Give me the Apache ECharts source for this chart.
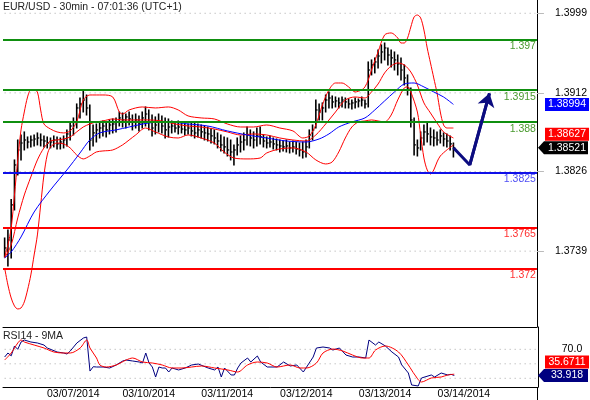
<!DOCTYPE html>
<html>
<head>
<meta charset="utf-8">
<script src="https://cdn.jsdelivr.net/npm/echarts@6.0.0/dist/echarts.min.js"></script>
<style>
  html, body { margin: 0; padding: 0; background: #fff; }
  #chart { width: 590px; height: 400px; }
</style>
</head>
<body>
<div id="chart"></div>
<script>
const title = 'EUR/USD - 30min - 07:01:36 (UTC+1)'
const rsiTitle = 'RSI14 - 9MA'

// hourly sessions: [date, first hour, last hour]
const sessions = [
  ['03/06/2014', 12, 23], ['03/07/2014', 0, 22], ['03/10/2014', 0, 23], ['03/11/2014', 0, 23],
  ['03/12/2014', 0, 23], ['03/13/2014', 0, 23], ['03/14/2014', 0, 23], ['03/15/2014', 0, 7],
]
const tickDays = ['03/07/2014', '03/10/2014', '03/11/2014', '03/12/2014', '03/13/2014', '03/14/2014']

const priceTicks = [1.3739, 1.3826, 1.3912, 1.3999]
const rsiTicks = [70]
const rsiGrid = [30, 50, 70]

const levels = [1.397, 1.3915, 1.388, 1.3825, 1.3765, 1.372]
const levelColors = ['#0f8f0f', '#0f8f0f', '#0f8f0f', '#1010e8', '#ff0000', '#ff0000']
const levelTextColors = ['#4a9a30', '#4a9a30', '#4a9a30', '#5050f5', '#ff3030', '#ff3030']

const highs = [
  1.37534, 1.37621, 1.37955, 1.38387, 1.38605, 1.3866, 1.38693, 1.38638, 1.38649, 1.3866, 1.38682, 1.38671,
  1.38649, 1.38638, 1.38627, 1.38649, 1.38638, 1.38627, 1.38649, 1.38715, 1.38802, 1.38846, 1.38999, 1.39064,
  1.39141, 1.39097, 1.38988, 1.38769, 1.3878, 1.38802, 1.38813, 1.38802, 1.38824, 1.38835, 1.38846, 1.38911,
  1.389, 1.38889, 1.38911, 1.38878, 1.38889, 1.38868, 1.38911, 1.38966, 1.38933, 1.38878, 1.38857, 1.38889,
  1.38868, 1.38846, 1.38835, 1.38813, 1.38802, 1.38813, 1.38791, 1.38802, 1.3878, 1.38791, 1.38791, 1.3878,
  1.38769, 1.38758, 1.38747, 1.38725, 1.38715, 1.38682, 1.3866, 1.38638, 1.38627, 1.38605, 1.38551, 1.38627,
  1.38649, 1.38682, 1.38747, 1.38715, 1.38693, 1.38736, 1.38747, 1.3866, 1.38638, 1.38649, 1.38627, 1.38616,
  1.38605, 1.38594, 1.38605, 1.38583, 1.38594, 1.38583, 1.38572, 1.38583, 1.38605, 1.38715, 1.38769, 1.39042,
  1.38999, 1.3901, 1.39097, 1.3913, 1.39086, 1.39075, 1.39064, 1.39075, 1.39064, 1.39053, 1.39042, 1.39064,
  1.39053, 1.39075, 1.39042, 1.39458, 1.3948, 1.39502, 1.39589, 1.39644, 1.39665, 1.39611, 1.39589, 1.39567,
  1.39534, 1.39502, 1.39425, 1.39316, 1.39174, 1.38846, 1.38605, 1.38693, 1.38769, 1.38791, 1.38736, 1.38715,
  1.38693, 1.38715, 1.38682, 1.38671, 1.38649, 1.38572,
]
const lows = [
  1.37326, 1.37228, 1.37315, 1.3784, 1.38223, 1.38387, 1.38496, 1.38518, 1.38529, 1.3854, 1.38551, 1.3854,
  1.38529, 1.38518, 1.38518, 1.38529, 1.38507, 1.38507, 1.38518, 1.3854, 1.38605, 1.3866, 1.38736, 1.38846,
  1.38911, 1.38878, 1.38496, 1.3854, 1.38583, 1.38627, 1.38649, 1.38638, 1.38671, 1.38682, 1.38693, 1.38758,
  1.38747, 1.38736, 1.38769, 1.38715, 1.38736, 1.38704, 1.38736, 1.38758, 1.38715, 1.38649, 1.38671, 1.38693,
  1.38682, 1.38627, 1.38638, 1.38682, 1.38693, 1.38671, 1.38682, 1.3866, 1.38671, 1.38649, 1.38627, 1.38638,
  1.38627, 1.38605, 1.38594, 1.38572, 1.38562, 1.38518, 1.38485, 1.38463, 1.3843, 1.38387, 1.38332, 1.38441,
  1.38474, 1.38496, 1.38551, 1.3854, 1.38518, 1.3854, 1.38562, 1.38529, 1.38518, 1.38529, 1.38507, 1.38496,
  1.38474, 1.38485, 1.38474, 1.38463, 1.38474, 1.38452, 1.3843, 1.38408, 1.38419, 1.38518, 1.38605, 1.38736,
  1.38824, 1.38824, 1.38911, 1.38955, 1.38955, 1.38966, 1.38955, 1.38966, 1.38955, 1.38955, 1.38944, 1.38955,
  1.38966, 1.38977, 1.38955, 1.38966, 1.39316, 1.39338, 1.39392, 1.39447, 1.3948, 1.39425, 1.39403, 1.3937,
  1.39316, 1.39261, 1.39206, 1.39097, 1.38747, 1.38441, 1.3843, 1.38496, 1.38551, 1.38583, 1.38551, 1.3854,
  1.38551, 1.38572, 1.3854, 1.38529, 1.38496, 1.38419,
]
const closes = [
  1.37425, 1.37512, 1.37895, 1.38332, 1.38496, 1.38572, 1.38605, 1.38583, 1.38605, 1.38616, 1.38627, 1.38605,
  1.38594, 1.38572, 1.38583, 1.38605, 1.38562, 1.38583, 1.38605, 1.38671, 1.38758, 1.38802, 1.38955, 1.38999,
  1.39042, 1.38955, 1.38605, 1.38682, 1.38715, 1.38736, 1.38758, 1.38715, 1.38769, 1.3878, 1.38802, 1.38846,
  1.38824, 1.38857, 1.38835, 1.38802, 1.38824, 1.3878, 1.38846, 1.38889, 1.38802, 1.38736, 1.38769, 1.38802,
  1.38758, 1.38715, 1.38747, 1.38758, 1.38736, 1.38747, 1.38725, 1.38715, 1.38736, 1.38704, 1.38682, 1.38715,
  1.38693, 1.38682, 1.38671, 1.38649, 1.38627, 1.38594, 1.38551, 1.38529, 1.38496, 1.38474, 1.38496, 1.38551,
  1.38583, 1.38605, 1.3866, 1.38627, 1.38605, 1.38649, 1.38638, 1.38594, 1.38572, 1.38583, 1.38562, 1.38551,
  1.3854, 1.38529, 1.3854, 1.38518, 1.38529, 1.38507, 1.38496, 1.38474, 1.38529, 1.3866, 1.38715, 1.38933,
  1.38911, 1.38955, 1.39042, 1.39064, 1.39021, 1.39032, 1.3901, 1.39042, 1.39021, 1.38999, 1.3901, 1.39021,
  1.39032, 1.39042, 1.38999, 1.3937, 1.39425, 1.39458, 1.39523, 1.39567, 1.39611, 1.39534, 1.39502, 1.3948,
  1.39436, 1.3937, 1.39283, 1.39174, 1.38824, 1.38551, 1.38518, 1.38627, 1.38693, 1.38671, 1.38638, 1.38627,
  1.38605, 1.38649, 1.38616, 1.38594, 1.38562, 1.38521,
]

// indicator readings: [bar index, value]
const bbUpper = [
  [0, 1.37326], [1, 1.37458], [2, 1.37643], [3, 1.38004], [4, 1.38387], [5, 1.38715], [6, 1.38911], [7, 1.39075],
  [8, 1.39152], [9, 1.39152], [10, 1.3913], [11, 1.38933], [12, 1.3878], [14, 1.38725], [16, 1.38693], [18, 1.38682],
  [20, 1.38704], [22, 1.38802], [24, 1.39042], [26, 1.39097], [30, 1.39097], [33, 1.39075], [35, 1.38911], [36, 1.38889],
  [38, 1.38933], [42, 1.38966], [46, 1.38955], [50, 1.38966], [53, 1.38933], [56, 1.38868], [60, 1.38846], [64, 1.38835],
  [68, 1.3878], [72, 1.38747], [76, 1.38747], [80, 1.38769], [84, 1.38736], [88, 1.38704], [91, 1.38627], [93, 1.38649],
  [95, 1.38769], [97, 1.38988], [99, 1.39152], [101, 1.39228], [103, 1.39228], [105, 1.39185], [107, 1.3913], [109, 1.39152],
  [110, 1.39185], [111, 1.39261], [112, 1.3937], [114, 1.39567], [116, 1.39753], [118, 1.39775], [120, 1.3972], [121, 1.39665],
  [122, 1.39665], [123, 1.3972], [124, 1.3984], [125, 1.3995], [126, 1.39971], [127, 1.39939], [128, 1.39807], [129, 1.39611],
  [130, 1.39447], [131, 1.39283], [132, 1.39119], [133, 1.38911], [134, 1.38769], [135, 1.38736], [137, 1.38736],
]
const bbMiddle = [
  [0, 1.37315], [2, 1.37458], [4, 1.37753], [6, 1.38004], [8, 1.38201], [10, 1.38387], [12, 1.38518], [14, 1.38594],
  [16, 1.38605], [18, 1.38616], [20, 1.38638], [22, 1.38693], [24, 1.38747], [26, 1.3878], [28, 1.38802], [30, 1.38813],
  [33, 1.38835], [36, 1.38824], [40, 1.38824], [44, 1.38824], [48, 1.38813], [52, 1.3878], [56, 1.38758], [60, 1.38747],
  [64, 1.38725], [68, 1.38693], [72, 1.3866], [76, 1.38671], [80, 1.3866], [84, 1.38627], [88, 1.38605], [92, 1.38594],
  [95, 1.3866], [98, 1.3878], [101, 1.38911], [104, 1.39042], [107, 1.39075], [110, 1.39064], [112, 1.3913], [114, 1.39217],
  [116, 1.39338], [118, 1.39414], [120, 1.39447], [122, 1.39425], [124, 1.39348], [126, 1.39206], [128, 1.3901], [130, 1.389],
  [132, 1.38791], [134, 1.38693], [137, 1.38627],
]
const bbLower = [
  [0, 1.37206], [1, 1.3702], [2, 1.36878], [3, 1.36791], [4, 1.36758], [5, 1.36769], [6, 1.36835], [7, 1.36966],
  [8, 1.3713], [9, 1.37348], [10, 1.37567], [11, 1.37895], [12, 1.38223], [13, 1.38441], [14, 1.38529], [16, 1.38572],
  [18, 1.38562], [20, 1.38518], [22, 1.38441], [24, 1.38398], [26, 1.3843], [28, 1.38474], [30, 1.38485], [33, 1.38496],
  [36, 1.38551], [38, 1.38605], [40, 1.3866], [43, 1.38736], [46, 1.38693], [50, 1.38638], [53, 1.38627], [56, 1.3866],
  [60, 1.38627], [64, 1.38572], [67, 1.38474], [70, 1.38408], [74, 1.38398], [78, 1.38408], [80, 1.38463], [84, 1.38507],
  [88, 1.38518], [92, 1.38474], [95, 1.38387], [98, 1.38343], [100, 1.38365], [102, 1.38474], [104, 1.38627], [106, 1.38747],
  [108, 1.38802], [110, 1.38813], [112, 1.38824], [114, 1.38813], [116, 1.38802], [118, 1.38878], [120, 1.39042], [122, 1.39174],
  [123, 1.39185], [124, 1.3913], [126, 1.38911], [127, 1.3866], [128, 1.38408], [129, 1.38277], [130, 1.38233], [131, 1.38277],
  [132, 1.38365], [133, 1.3843], [135, 1.38496], [137, 1.38551],
]
const maBlue = [
  [0, 1.37315], [2, 1.37381], [5, 1.37545], [9, 1.37818], [14, 1.38059], [19, 1.38277], [23, 1.38463], [26, 1.38605],
  [29, 1.38682], [34, 1.38715], [38, 1.38747], [44, 1.38791], [50, 1.38802], [56, 1.3878], [62, 1.38758], [68, 1.38704],
  [74, 1.3866], [80, 1.38627], [86, 1.38594], [92, 1.38583], [96, 1.38616], [99, 1.38671], [102, 1.38747], [106, 1.38802],
  [110, 1.38846], [113, 1.38933], [116, 1.39032], [119, 1.3913], [122, 1.39217], [125, 1.39228], [128, 1.39185], [131, 1.3913],
  [134, 1.39075], [137, 1.38994],
]
const projection = [[137, 1.38521], [142, 1.38332], [148, 1.39115]]

const rsi = [
  [0, 59.4], [1, 64.9], [2, 61], [3, 74.6], [4, 70], [5, 80.1], [6, 82.8], [8, 80.1], [10, 78.7], [12, 75.9],
  [13, 71.8], [16, 66.3], [18, 64.9], [19, 63.5], [20, 67.7], [22, 78.7], [24, 85.6], [25, 87], [26, 40], [27, 46],
  [28, 45.6], [30, 45.6], [32, 44.2], [34, 48.4], [36, 53.9], [37, 55.2], [39, 53.9], [41, 52.5], [42, 51.1], [43, 64.9],
  [44, 51.1], [45, 45.6], [46, 31.8], [47, 45.6], [48, 44.2], [49, 44.2], [50, 38.7], [51, 44.2], [53, 41.5], [55, 44.2],
  [57, 48.4], [59, 49.7], [62, 44.2], [64, 41.5], [65, 45.6], [66, 31.8], [67, 44.2], [69, 34.6], [70, 34.6], [71, 44.2],
  [72, 51.1], [74, 58], [75, 52.5], [77, 60.8], [78, 52.5], [80, 45.6], [83, 45.6], [85, 52.5], [87, 47], [89, 48.4],
  [91, 38.7], [92, 45.6], [94, 59.4], [95, 71.8], [97, 73.2], [99, 71.8], [100, 69], [102, 71.8], [104, 62.1], [106, 59.4],
  [108, 59.4], [110, 58], [111, 82.8], [113, 75.9], [114, 80.1], [116, 74.6], [118, 66.3], [120, 59.4], [121, 48.4], [123, 37.3],
  [124, 20.8], [126, 19.4], [127, 30.4], [130, 34.6], [131, 31.8], [133, 37.3], [135, 34.6], [136, 35.5], [137, 33.918],
]
const rsiMa = [
  [0, 55.2], [2, 64.9], [4, 78.7], [5, 82.8], [6, 80.1], [9, 75.9], [12, 71.8], [15, 66.3], [18, 64.9], [20, 64.9],
  [23, 71.8], [25, 82.8], [26, 71.8], [28, 58], [29, 48.4], [31, 45.6], [34, 48.4], [37, 55.2], [39, 58], [42, 52.5],
  [45, 51.1], [48, 48.4], [51, 44.2], [54, 44.2], [57, 45.6], [60, 47], [64, 44.2], [68, 41.5], [71, 38.7], [74, 48.4],
  [77, 52.5], [80, 51.1], [83, 45.6], [87, 48.4], [90, 44.2], [92, 44.2], [95, 51.1], [97, 64.9], [100, 70.4], [103, 67.7],
  [106, 62.1], [109, 58], [111, 58], [113, 69], [116, 74.6], [120, 66.3], [123, 48.4], [125, 34.6], [127, 24.9], [130, 30.4],
  [133, 31.8], [135, 34.6], [137, 35.6711],
]

const font = 'Liberation Sans, Arial, sans-serif'
const fs = 10.5

const categories = []
sessions.forEach(([day, h0, h1]) => {
  for (let h = h0; h <= h1; h++) categories.push(day + ' ' + String(h).padStart(2, '0') + ':00')
})
const isDayStart = (i, v) => v.endsWith(' 00:00') && tickDays.includes(v.slice(0, 10))
const bars = highs.map((h, i) => [i, h, lows[i], closes[i]])

function renderBar(params, api) {
  const i = api.value(0)
  const top = api.coord([i, api.value(1)])
  const bot = api.coord([i, api.value(2)])
  const cl = api.coord([i, api.value(3)])
  return {
    type: 'group',
    children: [
      { type: 'line', shape: { x1: top[0], y1: top[1] - 0.5, x2: bot[0], y2: bot[1] + 0.5 }, style: { stroke: '#000', lineWidth: 1.6 } },
      { type: 'line', shape: { x1: cl[0], y1: cl[1], x2: cl[0] + 1.8, y2: cl[1] }, style: { stroke: '#000', lineWidth: 1.2 } },
    ],
  }
}

const band = (name, data, color, z) => ({
  name, type: 'line', data, smooth: 0.3, symbol: 'none', z,
  lineStyle: { color, width: 1 },
})

// dotted grid rows, drawn as plain line series across the full category range
const dottedRow = (v, xi, yi) => ({
  type: 'line', xAxisIndex: xi, yAxisIndex: yi, symbol: 'none', silent: true, z: 1,
  data: [[0, v], [categories.length - 1, v]],
  lineStyle: { color: '#a8a8a8', width: 1, type: [1, 4] },
})

const chart = echarts.init(document.getElementById('chart'))
chart.setOption({
  animation: false,
  backgroundColor: '#fff',
  textStyle: { fontFamily: font, fontSize: fs },
  grid: [
    { left: 3, right: 52, top: 0, height: 327 },
    { left: 3, right: 52, top: 327, height: 60 },
  ],
  xAxis: [
    {
      type: 'category', gridIndex: 0, data: categories,
      axisLine: { lineStyle: { color: '#000', width: 1 } },
      axisTick: { show: false }, axisLabel: { show: false }, splitLine: { show: false },
    },
    {
      type: 'category', gridIndex: 1, data: categories,
      axisLine: { lineStyle: { color: '#000', width: 1 } },
      axisTick: { interval: isDayStart, length: 5, lineStyle: { color: '#000' } },
      axisLabel: {
        interval: isDayStart, formatter: v => v.slice(0, 10), align: 'left',
        padding: [0, 0, 0, 3], margin: 2, color: '#000', fontFamily: font, fontSize: fs,
      },
      splitLine: { show: false },
    },
  ],
  yAxis: [
    {
      type: 'value', gridIndex: 0, position: 'right', min: 1.36561, max: 1.40135,
      axisLine: { show: true, lineStyle: { color: '#000' } },
      splitLine: { show: false },
      axisTick: { show: true, customValues: priceTicks, length: 7, lineStyle: { color: '#bbb' } },
      axisLabel: {
        customValues: priceTicks, formatter: v => v.toFixed(4), align: 'center', margin: 34,
        color: '#000', fontFamily: font, fontSize: fs,
      },
    },
    {
      type: 'value', gridIndex: 1, position: 'right', min: 18, max: 100.8,
      axisLine: { show: true, lineStyle: { color: '#000' } },
      splitLine: { show: false },
      axisTick: { show: false },
      axisLabel: {
        customValues: rsiTicks, formatter: v => v.toFixed(1), align: 'center', margin: 34,
        color: '#000', fontFamily: font, fontSize: fs,
      },
    },
  ],
  series: [
    ...priceTicks.map(v => dottedRow(v, 0, 0)),
    ...rsiGrid.map(v => dottedRow(v, 1, 1)),
    {
      name: 'price', type: 'custom', data: bars, renderItem: renderBar, z: 2,
      encode: { x: 0, y: [1, 2, 3] },
    },
    band('bbUpper', bbUpper, '#ff0000', 3),
    band('bbMiddle', bbMiddle, '#ff0000', 3),
    band('bbLower', bbLower, '#ff0000', 3),
    band('ma', maBlue, '#0000ff', 3),
    {
      name: 'levels', type: 'line', data: closes, symbol: 'none', silent: true, z: 4,
      lineStyle: { width: 0, opacity: 0 },
      markLine: {
        silent: true, precision: 5, symbol: ['none', 'none'],
        data: levels.map((v, i) => ({
          yAxis: v,
          lineStyle: { color: levelColors[i], width: 2, type: 'solid' },
          label: {
            show: true, position: 'insideEndBottom', formatter: String(v), distance: [1, 1],
            color: levelTextColors[i], fontFamily: font, fontSize: fs,
          },
        })),
      },
    },
    {
      name: 'projection', type: 'line', data: projection, symbol: 'none', z: 5,
      lineStyle: { color: '#0c0c80', width: 3 },
      markLine: {
        silent: true, precision: 5, symbol: ['none', 'arrow'], symbolSize: 13,
        lineStyle: { color: '#0c0c80', width: 3, type: 'solid' },
        label: { show: false },
        data: [[{ coord: projection[1] }, { coord: projection[2] }]],
      },
    },
    {
      name: 'rsi', type: 'line', xAxisIndex: 1, yAxisIndex: 1, data: rsi, symbol: 'none', z: 3,
      lineStyle: { color: '#000080', width: 1 },
    },
    {
      name: 'rsiMa', type: 'line', xAxisIndex: 1, yAxisIndex: 1, data: rsiMa, symbol: 'none', smooth: 0.3, z: 3,
      lineStyle: { color: '#ff0000', width: 1 },
    },
  ],
})

// value tags at the right edge, placed through the axis scales
const last = a => a[a.length - 1][1]
const trim = v => String(+v.toFixed(4))
const yPx = (axis, v) => chart.convertToPixel({ yAxisIndex: axis }, v)

function tag(y, text, fill, pointer) {
  const h = 13
  const box = pointer
    ? { type: 'polygon', shape: { points: [[538, y], [544, y - h / 2], [588, y - h / 2], [588, y + h / 2], [544, y + h / 2]] } }
    : { type: 'rect', shape: { x: 545, y: y - h / 2, width: 44, height: h } }
  box.style = { fill }
  box.z = 100
  return [box, {
    type: 'text', x: 567, y, z: 101,
    style: { text, fill: '#fff', font: fs + 'px ' + font, align: 'center', verticalAlign: 'middle' },
  }]
}

const closeY = yPx(0, closes[closes.length - 1])
let midY = yPx(0, last(bbMiddle))
if (Math.abs(midY - closeY) < 13.5) midY = closeY - 13.5
const rsiY = yPx(1, last(rsi))
let rsiMaY = yPx(1, last(rsiMa))
if (Math.abs(rsiMaY - rsiY) < 13.5) rsiMaY = rsiY - 13.5

chart.setOption({
  graphic: [
    { type: 'text', x: 3, y: 2, style: { text: title, fill: '#222', font: fs + 'px ' + font, verticalAlign: 'top' } },
    { type: 'text', x: 3, y: 331, style: { text: rsiTitle, fill: '#222', font: fs + 'px ' + font, verticalAlign: 'top' } },
    { type: 'line', shape: { x1: 537.5, y1: 387, x2: 537.5, y2: 400 }, style: { stroke: '#000', lineWidth: 1 } },
    ...tag(yPx(0, last(maBlue)), last(maBlue).toFixed(5), '#0000ff', false),
    ...tag(midY, last(bbMiddle).toFixed(5), '#ff0000', false),
    ...tag(closeY, closes[closes.length - 1].toFixed(5), '#000', true),
    ...tag(rsiMaY, trim(last(rsiMa)), '#ff0000', false),
    ...tag(rsiY, trim(last(rsi)), '#000080', true),
  ],
})
</script>
</body>
</html>
